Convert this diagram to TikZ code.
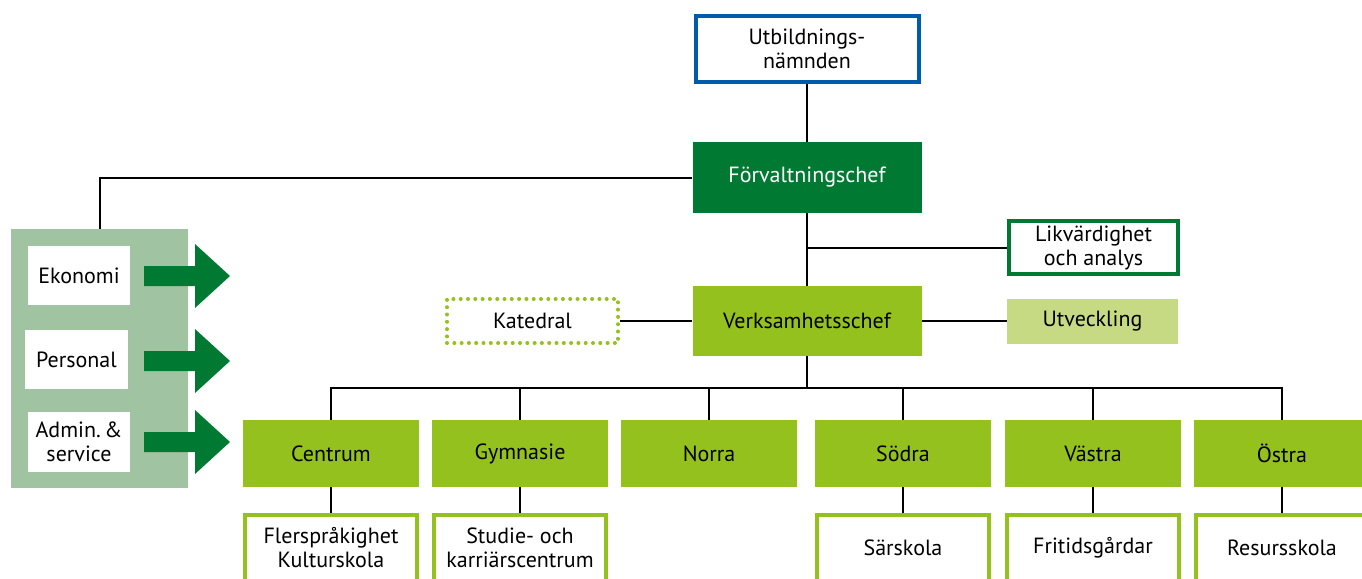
\documentclass[tikz,border=0pt]{standalone}
\usepackage{fontspec}
\setmainfont{PT Sans}
\usetikzlibrary{positioning}
\definecolor{mgreen}{HTML}{007A33}
\definecolor{lgreen}{HTML}{95C11F}
\definecolor{pgreen}{HTML}{C6DA84}
\definecolor{panelg}{HTML}{A0C4A2}
\definecolor{nblue}{HTML}{005CA9}
\newcommand\unitbox[3]{\node(#1)[unit] at (#2,453.5) {#3};}
\newcommand\subbox[3]{\node(#1)[sub] at (#2,548) {#3};}
\newcommand\fatarrow[1]{\fill[mgreen] (144,#1-10) -- (195,#1-10) -- (195,#1-32) -- (230,#1) -- (195,#1+32) -- (195,#1+10) -- (144,#1+10) -- cycle;}

\begin{document}
\begin{tikzpicture}[x=1pt,y=-1pt,
    every node/.style={font=\fontsize{22}{24}\selectfont,align=center,inner sep=0pt},
    conn/.style={line width=2pt},
    unit/.style={fill=lgreen,minimum width=176,minimum height=67},
    sub/.style={draw=lgreen,line width=4pt,fill=white,minimum width=172,minimum height=66},
    wbox/.style={fill=white,minimum width=102,minimum height=59}]
    \clip (0,0) rectangle (1362,578);
    \fill[white] (0,0) rectangle (1362,578);

    % top levels
    \node(nmd)[draw=nblue,line width=4pt,minimum width=223,minimum height=66] at (807,49) {Utbildnings-\\nämnden};
    \node(forv)[fill=mgreen,text=white,minimum width=229,minimum height=71] at (807,177.5) {Förvaltningschef};
    \node(likv)[draw=mgreen,line width=4pt,fill=white,minimum width=169,minimum height=53] at (1093.5,247.5) {Likvärdighet\\och analys};
    \node(verk)[fill=lgreen,minimum width=229,minimum height=70] at (807,321) {Verksamhetsschef};
    \node(kat)[draw=lgreen,line width=4pt,line cap=round,dash pattern=on 0pt off 7.3pt,minimum width=171,minimum height=44] at (532.5,321) {Katedral};
    \node(utv)[fill=pgreen,minimum width=171,minimum height=45] at (1092.5,321) {Utveckling};

    % support panel
    \node(panel)[fill=panelg,minimum width=177,minimum height=259] at (99.5,358.5) {};
    \node(eko)[wbox] at (79,275.5) {Ekonomi};
    \node(pers)[wbox,minimum width=103] at (76.5,359.5) {Personal};
    \node(adm)[wbox,minimum height=60] at (79,442) {Admin.\,\&\\service};
    \fatarrow{276}
    \fatarrow{361}
    \fatarrow{442}

    % units
    \unitbox{cen}{331}{Centrum}
    \unitbox{gym}{520}{Gymnasie}
    \unitbox{nor}{709}{Norra}
    \unitbox{sod}{903}{Södra}
    \unitbox{vas}{1093}{Västra}
    \unitbox{ost}{1282}{Östra}
    \subbox{fle}{331}{Flerspråkighet\\Kulturskola}
    \subbox{stu}{520}{Studie- och\\karriärscentrum}
    \subbox{sar}{903}{Särskola}
    \subbox{fri}{1093}{Fritidsgårdar}
    \subbox{res}{1282}{Resursskola}

    % connectors
    \coordinate(bus) at (807,388);
    \draw[conn] (nmd) -- (forv);
    \draw[conn] (forv.west) -| (panel.north);
    \draw[conn] (forv) -- (verk);
    \draw[conn] (likv.west) -- (likv.west -| forv.south);
    \draw[conn] (kat) -- (verk);
    \draw[conn] (verk) -- (utv);
    \draw[conn] (verk) -- (bus);
    \draw[conn] (cen.north) |- (bus) -| (ost.north);
    \foreach \u in {gym,nor,sod,vas}
        \draw[conn] (\u.north) -- (\u.north |- bus);
    \foreach \u/\s in {cen/fle,gym/stu,sod/sar,vas/fri,ost/res}
        \draw[conn] (\u) -- (\s);
\end{tikzpicture}
\end{document}
